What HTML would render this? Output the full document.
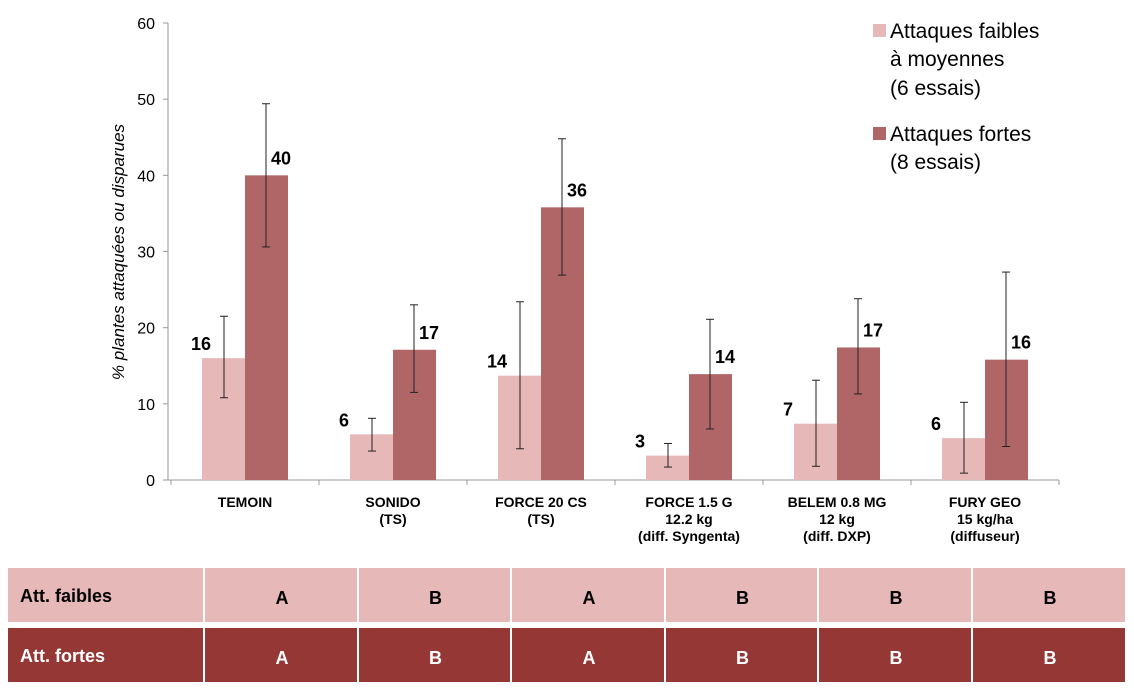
<!DOCTYPE html>
<html><head><meta charset="utf-8"><style>
body{margin:0;background:#fff;width:1134px;height:693px;overflow:hidden;font-family:"Liberation Sans",sans-serif}
svg text{font-family:"Liberation Sans",sans-serif}
</style></head><body>
<svg id="c" width="1134" height="693"></svg>
<script>
const categories=[["TEMOIN"],["SONIDO","(TS)"],["FORCE 20 CS","(TS)"],["FORCE 1.5 G","12.2 kg","(diff. Syngenta)"],["BELEM 0.8 MG","12 kg","(diff. DXP)"],["FURY GEO","15 kg/ha","(diffuseur)"]];
const faibles=[16,6,13.7,3.2,7.4,5.5];
const faiblesLo=[10.8,3.8,4.1,1.7,1.8,0.9];
const faiblesHi=[21.5,8.1,23.4,4.8,13.1,10.2];
const faiblesLabels=["16","6","14","3","7","6"];
const fortes=[40,17.1,35.8,13.9,17.4,15.8];
const fortesLo=[30.6,11.5,26.9,6.7,11.3,4.4];
const fortesHi=[49.4,23.0,44.8,21.1,23.8,27.3];
const fortesLabels=["40","17","36","14","17","16"];
const yTicks=[0,10,20,30,40,50,60];
const groupFaibles=["A","B","A","B","B","B"];
const groupFortes=["A","B","A","B","B","B"];

const svg=document.getElementById('c');const NS="http://www.w3.org/2000/svg";
function el(t,a,p){const e=document.createElementNS(NS,t);for(const k in a)e.setAttribute(k,a[k]);(p||svg).appendChild(e);return e;}
const x0=171,step=148,y0=480,yk=457/60;
const y=v=>y0-v*yk, cx=i=>x0+step*(i+0.5);
let e;
e=el('line',{x1:168,y1:23,x2:168,y2:480,stroke:'#999'});

e=el('line',{x1:168,y1:480,x2:x0+step*6,y2:480,stroke:'#999'});

yTicks.forEach(t=>{
 el('line',{x1:163,x2:168,y1:y(t),y2:y(t),stroke:'#999'});
 e=el('text',{x:155,y:y(t)+6,'text-anchor':'end','font-size':16,fill:'#000'});e.textContent=t;
 
});
for(let i=0;i<=6;i++)el('line',{x1:x0+step*i,x2:x0+step*i,y1:480,y2:485,stroke:'#999'});
e=el('text',{transform:'translate(124,252) rotate(-90)','text-anchor':'middle','font-size':17,'font-style':'italic'});
e.textContent='% plantes attaquées ou disparues';

function err(xc,lo,hi){el('line',{x1:xc,x2:xc,y1:y(hi),y2:y(lo),stroke:'#222'});el('line',{x1:xc-4,x2:xc+4,y1:y(hi),y2:y(hi),stroke:'#222'});el('line',{x1:xc-4,x2:xc+4,y1:y(lo),y2:y(lo),stroke:'#222'});}
categories.forEach((c,i)=>{
 const c0=cx(i);
 e=el('rect',{x:c0-43,y:y(faibles[i]),width:43,height:y0-y(faibles[i]),fill:'#e6b9b8'});
 
 e=el('rect',{x:c0,y:y(fortes[i]),width:43,height:y0-y(fortes[i]),fill:'#b06566'});
 
 err(c0-21,faiblesLo[i],faiblesHi[i]);err(c0+21,fortesLo[i],fortesHi[i]);
 e=el('text',{x:c0-54,y:y(faibles[i])-8,'font-size':18,'font-weight':'bold'});
 e.textContent=faiblesLabels[i];
 
 e=el('text',{x:c0+26,y:y(fortes[i])-11,'font-size':18,'font-weight':'bold'});e.textContent=fortesLabels[i];
 
 c.forEach((l,j)=>{e=el('text',{x:c0,y:507+j*17,'text-anchor':'middle','font-size':14,'font-weight':'bold'});e.textContent=l;
 });
});
// legend
e=el('rect',{x:873,y:24,width:13,height:13,fill:'#e6b9b8'});
e=el('rect',{x:873,y:127,width:13,height:13,fill:'#b06566'});
[["Attaques faibles",38],["à moyennes",66],["(6 essais)",95],["Attaques fortes",141],["(8 essais)",169]].forEach(([t,yy])=>{e=el('text',{x:890,y:yy,'font-size':21});e.textContent=t;});
// table
const cols=[8,205,359,512,666,819,973,1127];
function row(yy,fill,label,vals,name){
 for(let i=0;i<7;i++){el('rect',{x:cols[i],y:yy,width:cols[i+1]-cols[i]-2,height:54,fill});}
 e=el('text',{x:20,y:yy+34,'font-size':18,'font-weight':'bold',fill:name=='fortes'?'#fff':'#000'});e.textContent=label;
 
 vals.forEach((v,i)=>{e=el('text',{x:(cols[i+1]+cols[i+2])/2,y:yy+36,'text-anchor':'middle','font-size':18,'font-weight':'bold',fill:name=='fortes'?'#fff':'#000'});e.textContent=v;
 });
}
row(568,'#e6b8b7','Att. faibles',groupFaibles,'faibles');
row(628,'#953735','Att. fortes',groupFortes,'fortes');
</script>
</body></html>
